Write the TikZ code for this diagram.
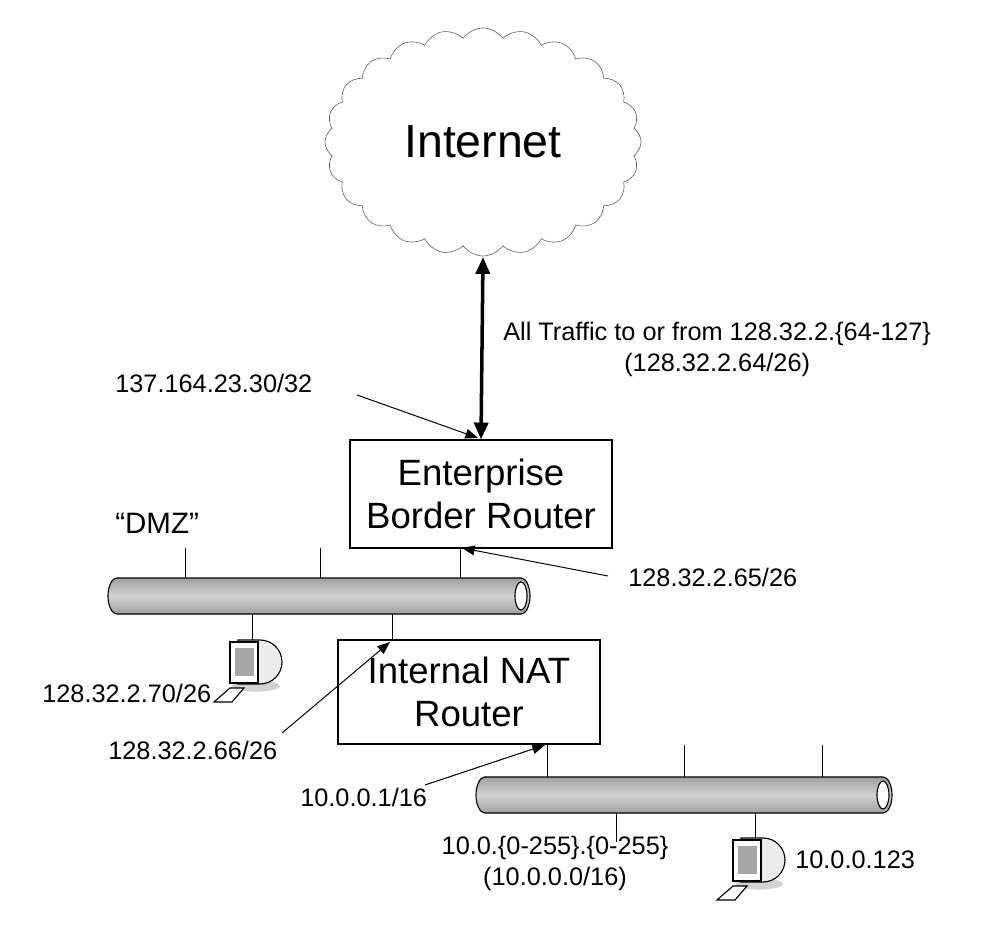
\documentclass[tikz,border=0pt]{standalone}
\usepackage{fontspec}
\setmainfont{Liberation Sans}
\usetikzlibrary{shapes.symbols,arrows.meta}
\tikzset{
    lbl/.style={font=\fontsize{18}{21}\selectfont, inner sep=0pt},
    router/.style={draw, thick, minimum width=6.55cm, font=\fontsize{26}{30}\selectfont, align=center},
    tick/.style={line width=0.5pt},
    pointer/.style={-{Triangle[length=9pt,width=7pt]}, line width=0.7pt},
    pc/.pic={
        \fill[gray!35] (8,22) ellipse (0.6cm and 0.14cm);
        \draw[thick, fill=gray!15] (-10,-24) -- (12,-24) arc (90:-90:0.55cm) -- (-10,20) -- cycle;
        \draw[thick, fill=white] (-18,-22) rectangle (10,19);
        \fill[gray!70] (-13,-16) rectangle (6,12);
        \draw[thick, fill=white] (-18,24) -- (-4,24) -- (-16,38) -- (-34,38) -- cycle;
    }
}
\newcommand{\netpipe}[4]{% name, x1, x2, y
    \draw[thick, top color=gray!75, bottom color=gray!75, middle color=gray!35]
        (#2+9,#4-18) -- (#3-9,#4-18) arc (90:-90:0.225cm and 0.45cm) -- (#2+9,#4+18) arc (270:90:0.225cm and 0.45cm) -- cycle;
    \draw[thick, fill=white] (#3-9,#4) ellipse (0.15cm and 0.35cm);
    \coordinate (#1) at ({(#2+#3)/2},#4);
}
\begin{document}
\begin{tikzpicture}[x=0.025cm, y=-0.025cm]
    \useasboundingbox (0,0) rectangle (981,945);
    % cloud
    \node[cloud, cloud puffs=24, cloud puff arc=110, aspect=1.4, draw, gray!70!black, text=black, minimum width=7.9cm, minimum height=5.7cm, font=\fontsize{33}{38}\selectfont] (inet) at (483,142) {Internet};
    % routers
    \node[router, minimum height=2.7cm] (ebr) at (481,494) {Enterprise\\Border Router};
    \node[router, minimum height=2.6cm] (nat) at (469,692) {Internal NAT\\Router};
    \draw[{Triangle[length=12pt,width=10pt]}-{Triangle[length=12pt,width=10pt]}, line width=2.5pt] (483,257) -- (ebr.north);
    % networks
    \netpipe{dmz}{108}{530}{596}
    \netpipe{lan}{476}{892}{795}
    \foreach \x in {185,320} \draw[tick] (\x,578) -- (\x,548);
    \draw[tick] (460,578) -- (460,548);
    \draw[tick] (252,614) -- (252,640);
    \draw[tick] (392,614) -- (392,640);
    \foreach \x in {684,822} \draw[tick] (\x,777) -- (\x,745);
    \draw[tick] (547,777) -- (547,745);
    \draw[tick] (616,813) -- (616,842);
    \draw[tick] (755,813) -- (755,838);
    \pic at (248,664) {pc};
    \pic at (751,862) {pc};
    % labels
    \node[lbl, anchor=west] (dmzl) at (115,523) {\fontsize{21}{24}\selectfont “DMZ”};
    \node[lbl, align=center, anchor=north west] (traffic) at (503,322) {All Traffic to or from 128.32.2.\{64-127\}\\[1pt](128.32.2.64/26)};
    \node[lbl, anchor=west] (ext) at (115,383) {137.164.23.30/32};
    \node[lbl, anchor=west] (ebrin) at (628,577) {128.32.2.65/26};
    \node[lbl, anchor=west] (host1) at (42,693) {128.32.2.70/26};
    \node[lbl, anchor=west] (natout) at (108,750) {128.32.2.66/26};
    \node[lbl, anchor=west] (natin) at (300,797) {10.0.0.1/16};
    \node[lbl, align=center, anchor=north] (lanl) at (555,836) {10.0.\{0-255\}.\{0-255\}\\[1pt](10.0.0.0/16)};
    \node[lbl, anchor=west] (host2) at (795,860) {10.0.0.123};
    \coordinate (a1) at (478,438);
    \coordinate (a2) at (462,548);
    \coordinate (a3) at (390,642);
    \coordinate (a4) at (545,745);
    \draw[pointer] (357,395) -- (a1);
    \draw[pointer] (608,576) -- (a2);
    \draw[pointer] (282,733) -- (a3);
    \draw[pointer] (425,785) -- (a4);
\end{tikzpicture}
\end{document}
